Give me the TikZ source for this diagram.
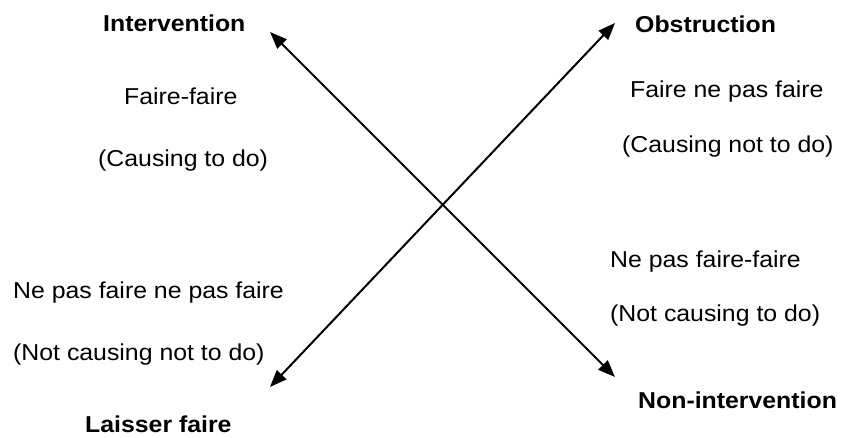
\documentclass[tikz,border=0pt]{standalone}
\usepackage{fontspec}
\setmainfont{Liberation Sans}[FakeStretch=1.08]
\usetikzlibrary{arrows.meta}
\begin{document}
\begin{tikzpicture}[x=1pt,y=-1pt,
  lbl/.style={anchor=base west,inner sep=0pt,font=\fontsize{23}{27}\selectfont},
  head/.style={lbl,font=\fontsize{23}{27}\selectfont\bfseries},
  axis/.style={line width=2pt,{Triangle[length=17pt,width=13pt]}-{Triangle[length=17pt,width=13pt]}}]
\useasboundingbox (0,0) rectangle (850,437);
% axis end points
\coordinate (iv) at (270,32);
\coordinate (ni) at (615,377);
\coordinate (lf) at (270,387);
\coordinate (ob) at (615,23);
\draw[axis] (iv) -- (ni);
\draw[axis] (lf) -- (ob);
% upper left quadrant
\node[head] (tIv) at (103,31) {Intervention};
\node[lbl] (ff) at (124,104) {Faire-faire};
\node[lbl] (ffE) at (98,166) {(Causing to do)};
% upper right quadrant
\node[head] (tOb) at (635,32) {Obstruction};
\node[lbl] (fnf) at (630,97) {Faire ne pas faire};
\node[lbl] (fnfE) at (622,152) {(Causing not to do)};
% lower left quadrant
\node[lbl] (nfnf) at (13,298) {Ne pas faire ne pas faire};
\node[lbl] (nfnfE) at (13,360) {(Not causing not to do)};
\node[head] (tLf) at (85,432) {Laisser faire};
% lower right quadrant
\node[lbl] (nff) at (610,267) {Ne pas faire-faire};
\node[lbl] (nffE) at (610,321) {(Not causing to do)};
\node[head] (tNi) at (638,408) {Non-intervention};
\end{tikzpicture}
\end{document}
